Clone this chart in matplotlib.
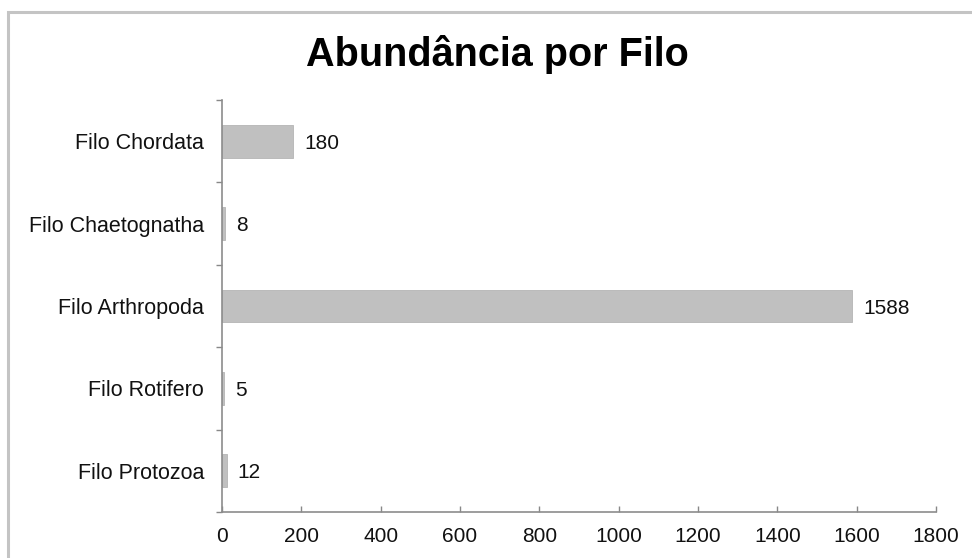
import matplotlib
matplotlib.use("Agg")
import matplotlib.pyplot as plt
from matplotlib.patches import Rectangle
import numpy as np

# ── Data ──────────────────────────────────────────────────────────────────────
categories = ["Filo Protozoa", "Filo Rotifero", "Filo Arthropoda",
              "Filo Chaetognatha", "Filo Chordata"]
values = [12, 5, 1588, 8, 180]
x_ticks = [0, 200, 400, 600, 800, 1000, 1200, 1400, 1600, 1800]
title = "Abundância por Filo"

plt.rcParams["font.family"] = ["Liberation Sans", "DejaVu Sans"]

fig = plt.figure(figsize=(9.72, 5.58), dpi=100)
ax = fig.add_axes([222 / 972, 1 - 512 / 558, (936 - 222) / 972, (512 - 100) / 558])

y = np.arange(len(categories))
ax.barh(y, values, height=0.4, color="#c0c0c0", edgecolor="#b4b4b4", linewidth=0.6)

for yi, v in zip(y, values):
    ax.text(v + 28, yi, str(v), va="center_baseline", ha="left", fontsize=15,
            color="#111111")

ax.set_xlim(0, 1800)
ax.set_ylim(-0.5, len(categories) - 0.5)
ax.set_xticks(x_ticks)
ax.set_xticklabels([str(t) for t in x_ticks], fontsize=15, color="#111111")
ax.set_yticks(y)
ax.set_yticklabels(categories, fontsize=15.5, color="#111111", va="center_baseline")
ax.set_yticks(np.arange(-0.5, len(categories)), minor=True)

ax.tick_params(axis="y", which="major", length=0, pad=13)
ax.tick_params(axis="y", which="minor", length=4, width=1, color="#888888", direction="out")
ax.tick_params(axis="x", which="major", length=4, width=1, color="#888888",
               direction="in", pad=11)

for side in ["top", "right"]:
    ax.spines[side].set_visible(False)
for side in ["left", "bottom"]:
    ax.spines[side].set_color("#8c8c8c")
    ax.spines[side].set_linewidth(1.2)

fig.text(0.512, 1 - 66 / 558, title, ha="center", va="baseline",
         fontsize=28.5, fontweight="bold", color="#000000")

# outer chart border (right/bottom edges fall outside the picture)
fig.patches.append(Rectangle((8 / 972, -0.1), 1.2, 1.1 - 12 / 558,
                             transform=fig.transFigure, fill=False,
                             edgecolor="#c4c4c4", linewidth=2.2))

fig.savefig("out.png", dpi=100, facecolor="white")
